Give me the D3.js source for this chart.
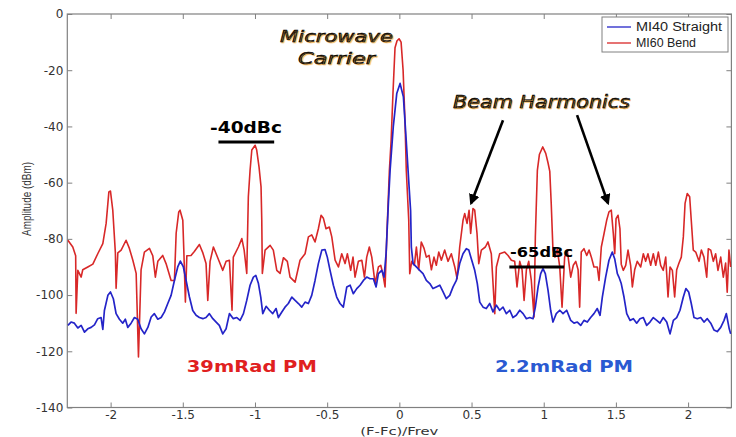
<!DOCTYPE html>
<html>
<head>
<meta charset="utf-8">
<script src="https://cdn.jsdelivr.net/npm/d3@7"></script>
<style>
body { margin: 0; background: #fff; }
svg text { font-family: "DejaVu Sans", "Liberation Sans", sans-serif; }
</style>
</head>
<body>
<script>
// chart size and plot box
var w = 736, h = 437;
var margin = {top: 14, right: 4.6, bottom: 29.5, left: 67.3};

// axis ticks
var xTicks = [-2, -1.5, -1, -0.5, 0, 0.5, 1, 1.5, 2];
var yTicks = [0, -20, -40, -60, -80, -100, -120, -140];
var seriesNames = ["MI40 Straight", "MI60 Bend"];

// MI60 Bend (red) trace, [ (F-Fc)/Frev , dBm ]
var bend = [[-2.296,-80.5],[-2.262,-82.9],[-2.242,-86],[-2.239,-106.5],[-2.227,-91.2],[-2.204,-93.6],[-2.193,-91],[-2.158,-90],[-2.123,-89],[-2.089,-85.3],[-2.054,-81.7],[-2.031,-74.5],[-2.012,-63.3],[-2.001,-63],[-1.985,-69.8],[-1.967,-85],[-1.962,-97.6],[-1.950,-85],[-1.927,-84],[-1.893,-80.5],[-1.870,-83.4],[-1.846,-87.6],[-1.823,-92.3],[-1.807,-122],[-1.789,-91],[-1.766,-84.7],[-1.731,-83.4],[-1.708,-86],[-1.690,-93.6],[-1.673,-88],[-1.639,-85.9],[-1.616,-88.8],[-1.581,-94.8],[-1.558,-94.8],[-1.546,-78],[-1.528,-70.4],[-1.519,-69.8],[-1.500,-73.4],[-1.493,-84],[-1.482,-102.5],[-1.472,-86],[-1.443,-85.9],[-1.420,-84.5],[-1.385,-82],[-1.361,-85],[-1.339,-88.8],[-1.327,-101.9],[-1.311,-88],[-1.288,-82.9],[-1.258,-86.7],[-1.223,-91.2],[-1.200,-88],[-1.177,-87.6],[-1.159,-105.4],[-1.150,-86.5],[-1.115,-82.9],[-1.091,-79.9],[-1.075,-84],[-1.057,-92.3],[-1.046,-65],[-1.034,-55.6],[-1.022,-48.4],[-0.999,-46.7],[-0.988,-48.4],[-0.972,-54.4],[-0.958,-61.5],[-0.953,-73.4],[-0.949,-92.3],[-0.930,-84],[-0.895,-82.3],[-0.873,-84],[-0.849,-91.2],[-0.826,-92.3],[-0.803,-86.7],[-0.776,-88],[-0.757,-93.6],[-0.722,-95.4],[-0.688,-87.6],[-0.653,-85.3],[-0.630,-79.3],[-0.607,-78.6],[-0.584,-81.1],[-0.561,-76.4],[-0.542,-71.6],[-0.526,-72.7],[-0.508,-76.4],[-0.485,-75.8],[-0.468,-79.3],[-0.445,-87.6],[-0.422,-90],[-0.399,-85.3],[-0.376,-88.8],[-0.360,-85.3],[-0.337,-91.2],[-0.321,-86.5],[-0.307,-93.6],[-0.284,-88],[-0.260,-87.6],[-0.242,-93.6],[-0.226,-86.5],[-0.208,-82.9],[-0.191,-86.5],[-0.168,-95.9],[-0.145,-90],[-0.129,-89.4],[-0.115,-92.3],[-0.099,-97.1],[-0.087,-79.3],[-0.069,-55.6],[-0.057,-45],[-0.044,-28],[-0.030,-12],[-0.016,-9.5],[-0.002,-8.8],[0.012,-10],[0.026,-20],[0.039,-38],[0.048,-55.6],[0.065,-73.4],[0.072,-92.4],[0.086,-88],[0.104,-89.4],[0.118,-82.9],[0.134,-91],[0.152,-81.1],[0.171,-83.4],[0.187,-86.5],[0.206,-85.9],[0.222,-91],[0.240,-86.5],[0.256,-89.4],[0.273,-84.7],[0.291,-87.6],[0.314,-84],[0.337,-88],[0.360,-85.3],[0.384,-90],[0.400,-94.2],[0.418,-82.9],[0.441,-73.4],[0.453,-71],[0.469,-74.5],[0.483,-69.8],[0.494,-78.1],[0.510,-69.2],[0.522,-69.8],[0.538,-78.1],[0.550,-88.8],[0.568,-84],[0.596,-82.9],[0.614,-81.1],[0.637,-85.3],[0.661,-106.6],[0.672,-90],[0.695,-85.3],[0.730,-84.7],[0.753,-85.9],[0.776,-87.6],[0.799,-88],[0.815,-97.1],[0.834,-88],[0.850,-91],[0.864,-101.9],[0.880,-91],[0.896,-88],[0.914,-94.8],[0.933,-107.8],[0.942,-79.3],[0.956,-55.6],[0.970,-50],[0.993,-47.3],[1.014,-49.6],[1.030,-53],[1.042,-56],[1.052,-67.4],[1.064,-84],[1.078,-86.5],[1.094,-83.7],[1.111,-90],[1.127,-104.3],[1.145,-86.5],[1.163,-84],[1.187,-93.6],[1.205,-89.4],[1.222,-88],[1.238,-91],[1.249,-104.3],[1.260,-84.7],[1.279,-83.5],[1.298,-85.9],[1.314,-84],[1.330,-86.5],[1.348,-90],[1.371,-90],[1.383,-94.8],[1.399,-82.9],[1.418,-78.1],[1.436,-73.4],[1.452,-70.4],[1.468,-69.8],[1.482,-78.1],[1.492,-85.3],[1.501,-72.8],[1.515,-71.6],[1.528,-76.4],[1.537,-89],[1.551,-91.2],[1.568,-89.4],[1.584,-84],[1.602,-89.4],[1.614,-97.1],[1.630,-91],[1.648,-88],[1.672,-90],[1.690,-85.3],[1.706,-88],[1.722,-85.3],[1.741,-89.4],[1.759,-85.3],[1.776,-89.4],[1.794,-84.7],[1.810,-89.4],[1.828,-91.2],[1.845,-86.5],[1.861,-100.7],[1.875,-90],[1.891,-91.2],[1.907,-100.7],[1.921,-91],[1.937,-88.6],[1.953,-86.5],[1.967,-79.3],[1.979,-67.4],[1.994,-63.9],[2.011,-65],[2.022,-73.4],[2.036,-84],[2.053,-84.7],[2.076,-88],[2.092,-84],[2.110,-86.5],[2.129,-93.6],[2.140,-83.5],[2.157,-84],[2.175,-88],[2.191,-85.3],[2.207,-91.2],[2.226,-86.5],[2.244,-93.6],[2.260,-88.6],[2.271,-99],[2.283,-84],[2.295,-90]];

// MI40 Straight (blue) trace
var straight = [[-2.296,-110.8],[-2.274,-109.6],[-2.251,-110],[-2.227,-111.7],[-2.204,-110.8],[-2.181,-113.2],[-2.158,-112],[-2.135,-111.5],[-2.112,-110.6],[-2.089,-108.4],[-2.066,-108],[-2.054,-112.2],[-2.043,-105.5],[-2.019,-100.1],[-2.001,-98.9],[-1.981,-101.3],[-1.962,-106.6],[-1.939,-108.6],[-1.916,-110],[-1.898,-108.6],[-1.881,-111.5],[-1.858,-110],[-1.835,-108],[-1.812,-108.6],[-1.789,-112],[-1.766,-113.8],[-1.742,-111.5],[-1.719,-107.8],[-1.697,-106.6],[-1.673,-108.6],[-1.650,-108],[-1.627,-106],[-1.604,-103],[-1.581,-100.1],[-1.558,-94.8],[-1.535,-90],[-1.517,-87.9],[-1.496,-90],[-1.477,-94.8],[-1.454,-100.7],[-1.431,-105.5],[-1.408,-107.2],[-1.385,-108],[-1.361,-108.4],[-1.339,-108],[-1.316,-106.6],[-1.292,-108.4],[-1.269,-109.6],[-1.247,-110.8],[-1.223,-113.8],[-1.200,-112],[-1.177,-106.6],[-1.150,-108.4],[-1.126,-108],[-1.103,-109],[-1.080,-106.6],[-1.057,-101.9],[-1.034,-96.5],[-1.011,-93.6],[-0.994,-93],[-0.976,-95.9],[-0.960,-100.7],[-0.946,-106.6],[-0.923,-104],[-0.900,-105.4],[-0.877,-106.6],[-0.854,-104.8],[-0.838,-108],[-0.814,-106],[-0.792,-104.3],[-0.769,-103],[-0.745,-100.7],[-0.722,-101.9],[-0.699,-103],[-0.676,-104.3],[-0.653,-102.5],[-0.630,-103],[-0.607,-100.1],[-0.584,-94.8],[-0.561,-88.8],[-0.537,-84],[-0.515,-83.8],[-0.499,-86.5],[-0.480,-91.2],[-0.457,-96.5],[-0.434,-100.7],[-0.411,-103],[-0.388,-104.3],[-0.364,-97.1],[-0.341,-96.5],[-0.319,-99.5],[-0.295,-97.7],[-0.272,-96.5],[-0.249,-94.8],[-0.226,-93.6],[-0.203,-94.2],[-0.180,-94.2],[-0.161,-97.1],[-0.145,-92.4],[-0.122,-91.2],[-0.106,-93.6],[-0.092,-85.3],[-0.076,-67.4],[-0.064,-55.6],[-0.042,-40.1],[-0.018,-28.3],[0.005,-24.7],[0.028,-29.5],[0.046,-43.7],[0.069,-62.7],[0.078,-70],[0.083,-82.9],[0.095,-88.8],[0.118,-90],[0.141,-91.2],[0.164,-92.4],[0.187,-94.8],[0.211,-95.9],[0.233,-97.7],[0.256,-97.1],[0.280,-96.5],[0.303,-98.9],[0.325,-101.3],[0.349,-100.1],[0.372,-97.1],[0.395,-94.8],[0.418,-88.8],[0.441,-85.3],[0.464,-83.5],[0.481,-84],[0.499,-87.2],[0.522,-91.2],[0.540,-95.9],[0.557,-102.5],[0.580,-104.3],[0.602,-104.8],[0.626,-103],[0.649,-106],[0.672,-103.6],[0.695,-105.4],[0.718,-104.3],[0.741,-106.6],[0.765,-105.4],[0.787,-108],[0.810,-107.2],[0.834,-105.4],[0.857,-106.6],[0.880,-108.4],[0.903,-108],[0.926,-108.4],[0.942,-104.3],[0.961,-97.1],[0.979,-92.4],[0.995,-90.6],[1.011,-92.4],[1.030,-98.3],[1.048,-105.4],[1.064,-109.6],[1.087,-106.6],[1.111,-105.4],[1.134,-106.6],[1.159,-105.4],[1.187,-109],[1.210,-110],[1.233,-109.6],[1.256,-110.8],[1.279,-109],[1.302,-109.6],[1.325,-108],[1.348,-106.6],[1.371,-104.8],[1.390,-107.2],[1.406,-100.7],[1.429,-93.6],[1.452,-87.6],[1.475,-84.7],[1.492,-87.2],[1.510,-92.4],[1.521,-93.6],[1.537,-95.9],[1.556,-100.7],[1.575,-106.6],[1.598,-109],[1.621,-108.4],[1.644,-110],[1.667,-108.4],[1.690,-108],[1.713,-110.8],[1.736,-109.6],[1.759,-108],[1.783,-109],[1.805,-110],[1.828,-108],[1.852,-109.6],[1.875,-113.8],[1.898,-109],[1.921,-108],[1.944,-105.4],[1.967,-100.7],[1.985,-97.7],[2.004,-98.9],[2.022,-103],[2.041,-108],[2.064,-108.4],[2.087,-108],[2.110,-109.6],[2.133,-108.4],[2.157,-110],[2.179,-112.4],[2.202,-113],[2.226,-111.5],[2.249,-109],[2.265,-106.6],[2.285,-112],[2.295,-113.8]];

var colors = {straight: "#2424c8", bend: "#d82828"};

var svg = d3.select("body").append("svg")
    .attr("width", w)
    .attr("height", h);

var x = d3.scaleLinear()
    .domain([-2.3, 2.3])
    .range([margin.left, w - margin.right]);

var y = d3.scaleLinear()
    .domain([-140, 0])
    .range([h - margin.bottom, margin.top]);

svg.append("defs").append("clipPath")
    .attr("id", "plotclip")
  .append("rect")
    .attr("x", margin.left)
    .attr("y", margin.top)
    .attr("width", w - margin.left - margin.right)
    .attr("height", h - margin.top - margin.bottom);

svg.select("defs").append("marker")
    .attr("id", "arrowhead")
    .attr("viewBox", "0 0 10 10")
    .attr("refX", 8)
    .attr("refY", 5)
    .attr("markerWidth", 4.2)
    .attr("markerHeight", 4.2)
    .attr("orient", "auto")
  .append("path")
    .attr("d", "M0,0 L10,5 L0,10 z")
    .attr("fill", "#000");

// axes, ticks point inward
var fmt = function(d) { return String(d); };

function styleAxis(g) {
    g.select(".domain").remove();
    g.selectAll(".tick line").attr("stroke", "#808080");
    g.selectAll(".tick text")
        .attr("fill", "#333")
        .style("font-size", "12px");
}

svg.append("g")
    .attr("transform", "translate(0," + (h - margin.bottom) + ")")
    .call(d3.axisBottom(x).tickValues(xTicks).tickFormat(fmt).tickSize(-5).tickPadding(3))
    .call(styleAxis);

svg.append("g")
    .attr("transform", "translate(0," + margin.top + ")")
    .call(d3.axisTop(x).tickValues(xTicks).tickFormat("").tickSize(-5))
    .call(styleAxis);

svg.append("g")
    .attr("transform", "translate(" + margin.left + ",0)")
    .call(d3.axisLeft(y).tickValues(yTicks).tickFormat(fmt).tickSize(-5).tickPadding(4))
    .call(styleAxis);

svg.append("g")
    .attr("transform", "translate(" + (w - margin.right) + ",0)")
    .call(d3.axisRight(y).tickValues(yTicks).tickFormat("").tickSize(-5))
    .call(styleAxis);

// frame
svg.append("rect")
    .attr("x", margin.left)
    .attr("y", margin.top)
    .attr("width", w - margin.left - margin.right)
    .attr("height", h - margin.top - margin.bottom)
    .attr("fill", "none")
    .attr("stroke", "#808080")
    .attr("stroke-width", 1.2);

// axis titles
svg.append("text")
    .attr("transform", "translate(31," + 199 + ") rotate(-90)")
    .attr("text-anchor", "middle")
    .attr("fill", "#333")
    .style("font-family", "'Liberation Sans', Arial, sans-serif")
    .style("font-size", "12px")
    .attr("textLength", 74)
    .attr("lengthAdjust", "spacingAndGlyphs")
    .text("Amplitude (dBm)");

svg.append("text")
    .attr("x", x(0))
    .attr("y", 435)
    .attr("text-anchor", "middle")
    .attr("fill", "#333")
    .style("font-size", "11px")
    .attr("textLength", 78)
    .attr("lengthAdjust", "spacingAndGlyphs")
    .text("(F-Fc)/Frev");

// traces
var line = d3.line()
    .x(function(d) { return x(d[0]); })
    .y(function(d) { return y(d[1]); });

var plot = svg.append("g").attr("clip-path", "url(#plotclip)");

plot.append("path")
    .datum(bend)
    .attr("d", line)
    .attr("fill", "none")
    .attr("stroke", colors.bend)
    .attr("stroke-width", 1.6)
    .attr("stroke-linejoin", "round");

plot.append("path")
    .datum(straight)
    .attr("d", line)
    .attr("fill", "none")
    .attr("stroke", colors.straight)
    .attr("stroke-width", 1.7)
    .attr("stroke-linejoin", "round");

// annotations
function note(tx, ty, str, size, len, opts) {
    var t = svg.append("text")
        .attr("x", x(tx))
        .attr("y", y(ty))
        .attr("text-anchor", "middle")
        .attr("fill", opts.fill || "#000")
        .style("font-size", size + "px")
        .attr("textLength", len)
        .attr("lengthAdjust", "spacingAndGlyphs")
        .text(str);
    if (opts.italic) {
        // slanted callouts with a faint orange halo, like the original
        t.style("font-style", "italic")
         .attr("stroke", "#000")
         .attr("stroke-width", 0.5)
         .style("text-shadow", "0.8px 0.8px 0.6px #f5b860");
    } else {
        t.style("font-weight", "bold");
    }
    return t;
}

note(-0.435, -10, "Microwave", 16, 113, {italic: true});
note(-0.435, -17.8, "Carrier", 16, 77, {italic: true});
note(0.985, -33.5, "Beam Harmonics", 17, 177, {italic: true});
note(-1.062, -42.4, "-40dBc", 15, 72, {});
note(0.985, -86.6, "-65dBc", 14, 63, {});
note(-1.022, -127.5, "39mRad PM", 16, 130, {fill: "#e02020"});
note(1.141, -127.5, "2.2mRad PM", 16, 138, {fill: "#2a5ad2"});

// level bars
var bars = [[-1.253, -0.867, -45.5], [0.762, 1.141, -90]];
svg.selectAll(".bar")
    .data(bars)
    .enter().append("line")
    .attr("class", "bar")
    .attr("x1", function(d) { return x(d[0]); })
    .attr("x2", function(d) { return x(d[1]); })
    .attr("y1", function(d) { return y(d[2]); })
    .attr("y2", function(d) { return y(d[2]); })
    .attr("stroke", "#000")
    .attr("stroke-width", 3);

// arrows to beam harmonics
var arrows = [[0.718, -37.8, 0.497, -67.3], [1.231, -36, 1.445, -67.3]];
svg.selectAll(".arrow")
    .data(arrows)
    .enter().append("line")
    .attr("class", "arrow")
    .attr("x1", function(d) { return x(d[0]); })
    .attr("y1", function(d) { return y(d[1]); })
    .attr("x2", function(d) { return x(d[2]); })
    .attr("y2", function(d) { return y(d[3]); })
    .attr("stroke", "#000")
    .attr("stroke-width", 2.6)
    .attr("marker-end", "url(#arrowhead)");

// legend
var lg = svg.append("g").attr("transform", "translate(602,17)");
lg.append("rect")
    .attr("width", 126)
    .attr("height", 35)
    .attr("fill", "#fff")
    .attr("stroke", "#808080");

var legendColors = [colors.straight, colors.bend];
var legendLens = [86, 60];
seriesNames.forEach(function(name, i) {
    lg.append("line")
        .attr("x1", 5).attr("x2", 29)
        .attr("y1", 10 + i * 16).attr("y2", 10 + i * 16)
        .attr("stroke", legendColors[i])
        .attr("stroke-width", 1.3);
    lg.append("text")
        .attr("x", 34)
        .attr("y", 14 + i * 16)
        .attr("fill", "#222")
        .style("font-family", "'Liberation Sans', Arial, sans-serif")
        .style("font-size", "12px")
        .attr("textLength", legendLens[i])
        .attr("lengthAdjust", "spacingAndGlyphs")
        .text(name);
});
</script>
</body>
</html>
